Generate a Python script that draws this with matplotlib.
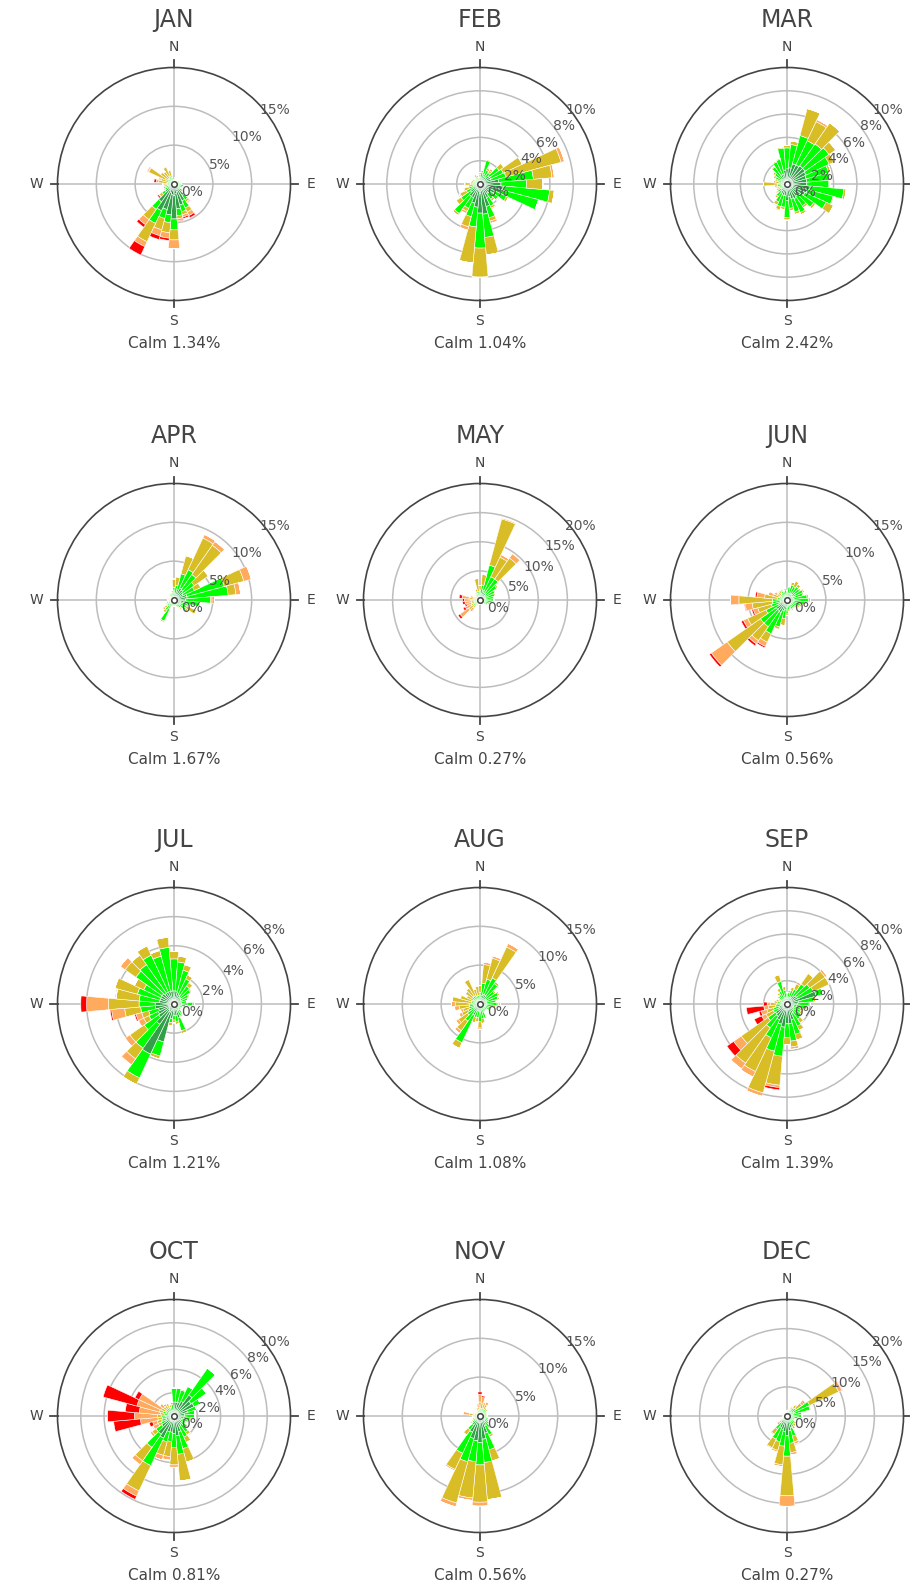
import numpy as np
import matplotlib
matplotlib.use("Agg")
import matplotlib.pyplot as plt

months = ["JAN", "FEB", "MAR", "APR", "MAY", "JUN",
          "JUL", "AUG", "SEP", "OCT", "NOV", "DEC"]
calm = [1.34, 1.04, 2.42, 1.67, 0.27, 0.56, 1.21, 1.08, 1.39, 0.81, 0.56, 0.27]
r_max = [15, 10, 10, 15, 20, 15, 8, 15, 10, 10, 15, 20]
r_step = [5, 2, 2, 5, 5, 5, 2, 5, 2, 2, 5, 5]
directions = np.arange(0, 360, 10)
speed_colors = ["#0b6b1f", "#32a048", "#00ff00", "#d9bd26", "#ffaa5c", "#ff0000"]

# frequency (%) per direction (0, 10, ... 350 deg), speed bins low -> high
JAN = [(0.15,0.2,0.15,0.1,0,0),(0.2,0.3,0.2,0.1,0,0),(0.15,0.25,0.15,0.05,0,0),(0.1,0.2,0.15,0.05,0,0),
       (0.1,0.2,0.15,0.05,0,0),(0.15,0.2,0.2,0.05,0,0),(0.2,0.3,0.25,0.05,0,0),(0.2,0.3,0.4,0.1,0,0),
       (0.2,0.3,0.3,0,0,0),(0.2,0.35,0.4,0.05,0,0),(0.25,0.4,0.6,0.15,0,0),(0.25,0.35,0.5,0.1,0,0),
       (0.25,0.35,0.3,0.1,0,0),(0.35,0.5,0.5,0.1,0.05,0),(0.6,1.2,0.7,0.3,0.1,0.1),(0.8,1.6,1.0,0.6,0.5,0.3),
       (1.0,1.8,0.9,0.4,0.3,0.2),(1.2,2.0,0.9,0.4,0.3,0.1),(1.5,3.0,1.4,1.3,1.1,0.05),(1.4,2.6,1.0,1.3,0.7,0.3),
       (1.2,2.2,1.2,1.5,0.8,0.5),(1.0,2.8,1.8,2.6,0.7,1.2),(0.8,2.0,1.2,1.6,0.8,0.4),(0.5,0.9,0.5,0.4,0.1,0.2),
       (0.4,0.6,0.3,0.2,0,0),(0.3,0.5,0.3,0.3,0.1,0),(0.2,0.4,0.2,0.3,0,0.1),(0.2,0.4,0.3,0.5,0.1,0),
       (0.2,0.4,0.3,1.1,0.3,0.3),(0.2,0.3,0.3,0.9,0.2,0.1),(0.2,0.4,0.6,2.4,0.1,0.1),(0.2,0.3,0.4,1.2,0.1,0),
       (0.2,0.3,0.4,1.0,0.1,0),(0.2,0.4,0.5,1.3,0.1,0),(0.2,0.3,0.4,0.9,0.1,0),(0.1,0.2,0.1,0.1,0,0)]
FEB = [(0.2,0.3,0.3,0.2,0,0),(0.2,0.4,0.4,0.2,0,0),(0.3,0.6,1.2,0.1,0,0),(0.2,0.5,0.6,0.2,0,0),
       (0.2,0.5,0.5,0.2,0.2,0),(0.3,0.7,1.0,0.5,0,0),(0.3,0.7,1.2,1.8,0,0),(0.3,0.7,1.3,4.9,0.3,0),
       (0.4,1.2,3.0,1.6,0.2,0),(0.5,1.3,2.2,1.4,0,0),(0.5,1.5,4.0,0.4,0,0),(0.5,1.5,3.2,0,0,0),
       (0.4,1.0,1.1,0.2,0,0),(0.3,0.8,0.8,0.1,0,0),(0.3,0.7,0.6,0.2,0,0),(0.4,0.9,0.8,0.2,0.1,0),
       (0.5,1.5,1.0,0.3,0.2,0),(0.6,2.0,2.0,1.5,0,0),(0.8,1.7,3.0,2.5,0,0),(0.6,1.4,1.7,3.1,0,0),
       (0.5,1.2,1.2,0.9,0.3,0),(0.4,0.9,1.0,0.3,0.2,0),(0.4,0.9,1.8,0.2,0,0),(0.3,0.7,1.0,0.5,0,0),
       (0.2,0.5,0.6,0.6,0.1,0),(0.2,0.4,0.4,0.4,0.1,0),(0.1,0.3,0.2,0.4,0,0),(0.2,0.3,0.3,0.5,0,0),
       (0.1,0.3,0.2,0.2,0,0),(0.1,0.3,0.2,0.2,0,0),(0.1,0.2,0.2,0.2,0,0),(0.1,0.2,0.2,0.1,0,0),
       (0.1,0.2,0.2,0.1,0,0),(0.2,0.3,0.2,0.2,0,0),(0.1,0.3,0.2,0.2,0,0),(0.1,0.2,0.2,0.1,0,0)]
MAR = [(0.4,0.9,1.8,0.2,0,0),(0.4,1.0,2.0,0.3,0,0),(0.5,1.3,2.5,2.4,0,0),(0.5,1.3,2.3,1.8,0.2,0),
       (0.5,1.4,2.3,2.2,0,0),(0.5,1.4,2.5,0.7,0,0),(0.5,1.3,2.2,0.5,0,0),(0.5,1.2,2.0,0.2,0,0),
       (0.5,1.2,2.0,0.1,0,0),(0.5,1.2,1.9,0.1,0,0),(0.5,1.5,2.9,0.2,0,0),(0.5,1.3,2.3,0.1,0,0),
       (0.5,1.2,2.0,0.7,0,0),(0.4,1.0,1.4,0.2,0,0),(0.4,0.9,1.0,0.2,0,0),(0.4,1.0,1.3,0.2,0,0),
       (0.4,0.9,1.2,0.2,0,0),(0.3,0.8,1.0,0.2,0,0),(0.4,1.0,1.5,0.2,0,0),(0.3,0.7,1.0,0.2,0,0),
       (0.3,0.7,1.0,0.3,0.1,0),(0.3,0.6,0.8,0.3,0,0),(0.2,0.5,0.6,0.2,0,0),(0.2,0.4,0.4,0.1,0.1,0),
       (0.1,0.3,0.2,0.2,0.2,0),(0.1,0.3,0.3,0.2,0.1,0),(0.2,0.3,0.3,0.3,0,0),(0.2,0.3,0.3,1.2,0,0),
       (0.1,0.3,0.3,0.3,0.2,0),(0.2,0.3,0.4,0.2,0,0),(0.2,0.4,0.5,0.2,0,0),(0.2,0.4,0.7,0.2,0,0),
       (0.3,0.5,1.0,0.1,0,0),(0.3,0.6,1.2,0.1,0,0),(0.3,0.6,1.3,0.1,0,0),(0.4,0.8,1.9,0.1,0,0)]
APR = [(0.3,0.5,0.8,1.1,0,0),(0.3,0.6,1.0,1.1,0,0),(0.4,1.0,2.1,2.4,0,0),(0.5,1.2,2.6,4.5,0.5,0),
       (0.5,1.1,2.4,4.6,0.6,0),(0.4,1.0,1.8,2.2,0,0),(0.4,0.9,1.6,0.9,0,0),(0.5,1.2,5.0,2.6,1.0,0),
       (0.5,1.2,5.3,1.0,0.6,0),(0.5,1.0,3.2,0.2,0.3,0),(0.4,0.9,2.0,0.2,0,0),(0.3,0.6,0.9,0.2,0,0),
       (0.3,0.6,0.9,1.4,0,0),(0.3,0.6,1.0,0.3,0,0),(0.2,0.4,0.7,0.2,0,0),(0.2,0.4,0.5,0.1,0,0),
       (0.2,0.3,0.4,0.1,0,0),(0.2,0.3,0.3,0,0,0),(0.2,0.3,0.3,0,0,0),(0.2,0.3,0.3,0,0,0),
       (0.2,0.3,0.4,0.1,0,0),(0.4,0.8,1.8,0.2,0,0),(0.3,0.6,0.7,0.4,0,0),(0.2,0.4,0.5,0.4,0.3,0),
       (0.2,0.3,0.4,0.2,0.1,0),(0.2,0.3,0.3,0.2,0,0),(0.1,0.2,0.2,0.2,0,0),(0.1,0.2,0.3,0.2,0,0),
       (0.1,0.2,0.3,0.2,0,0),(0.1,0.2,0.2,0.2,0,0),(0.1,0.2,0.2,0.1,0,0),(0.1,0.2,0.3,0.2,0,0),
       (0.2,0.3,0.4,0,0,0),(0.2,0.3,0.4,0.1,0,0),(0.2,0.3,0.4,0.1,0,0),(0.2,0.3,0.5,0.2,0,0)]
MAY = [(0.3,0.6,0.8,0.8,0,0),(0.3,0.8,1.5,1.8,0,0),(0.5,1.2,4.5,8.2,0.2,0),(0.4,1.0,3.0,3.7,0.5,0),
       (0.4,1.0,3.0,4.4,0.9,0),(0.3,0.8,2.4,0.3,0,0),(0.3,0.7,1.8,0.2,0,0),(0.3,0.6,1.7,0.2,0,0),
       (0.3,0.6,1.5,0.1,0,0),(0.3,0.6,1.4,0.1,0,0),(0.3,0.5,1.3,0.1,0,0),(0.2,0.5,1.0,0.1,0,0),
       (0.2,0.4,0.8,0.1,0,0),(0.2,0.3,0.6,0.1,0,0),(0.2,0.3,0.4,0.1,0,0),(0.1,0.3,0.3,0.1,0,0),
       (0.1,0.3,0.3,0.1,0,0),(0.1,0.2,0.3,0.1,0,0),(0.1,0.2,0.3,0.1,0,0),(0.1,0.3,0.3,0.1,0,0),
       (0.1,0.3,0.3,0.2,0,0),(0.2,0.3,0.3,0.3,0.1,0),(0.2,0.4,0.5,0.6,0.8,0),(0.2,0.5,0.7,1.0,1.8,0.4),
       (0.2,0.4,0.5,0.6,1.1,0.4),(0.2,0.3,0.4,0.6,0.9,0.3),(0.2,0.3,0.4,0.6,1.1,0.4),(0.2,0.3,0.4,0.7,1.1,0.3),
       (0.2,0.3,0.5,0.9,1.2,0.5),(0.1,0.3,0.3,0.5,0.6,0),(0.1,0.2,0.3,0.4,0.2,0),(0.1,0.2,0.3,0.3,0.1,0),
       (0.1,0.3,0.6,0.2,0,0),(0.2,0.3,0.7,0.3,0,0),(0.2,0.4,0.6,0.8,0,0),(0.2,0.5,0.8,2.2,0,0)]
JUN = [(0.2,0.4,0.5,0.1,0,0),(0.3,0.5,0.8,0.2,0,0),(0.3,0.6,1.1,0.4,0,0),(0.3,0.6,1.0,0.8,0,0),
       (0.3,0.6,1.2,0.4,0,0),(0.3,0.5,1.2,0.2,0,0),(0.3,0.6,1.4,0.2,0,0),(0.3,0.5,1.3,0.2,0,0),
       (0.3,0.6,1.7,0.2,0,0),(0.3,0.6,1.9,0.2,0,0),(0.3,0.6,1.4,0.2,0,0),(0.3,0.5,1.0,0.2,0,0),
       (0.2,0.5,0.9,0.2,0,0),(0.2,0.4,0.7,0.2,0,0),(0.2,0.4,0.6,0.1,0,0),(0.2,0.4,0.7,0.2,0,0),
       (0.2,0.4,0.5,0.1,0,0),(0.2,0.4,0.7,0.2,0,0),(0.3,0.6,0.9,0.2,0,0),(0.4,0.8,1.2,0.9,0,0),
       (0.4,1.0,2.2,0.3,0.1,0),(0.5,1.3,3.0,1.2,0.6,0.2),(0.5,1.2,2.5,2.2,0.5,0.3),(0.5,1.2,2.5,5.2,2.5,0.3),
       (0.4,0.8,1.8,2.6,0.6,0.3),(0.3,0.6,1.2,1.8,0.6,0.2),(0.3,0.6,1.0,2.6,0.9,0.1),(0.3,0.6,1.0,4.3,1.1,0),
       (0.2,0.4,0.6,1.7,1.0,0.2),(0.2,0.3,0.5,0.9,0.6,0),(0.2,0.3,0.4,0.5,0.4,0),(0.2,0.3,0.5,0.4,0.1,0),
       (0.2,0.3,0.6,0.4,0.1,0),(0.2,0.3,0.8,0.2,0,0),(0.2,0.3,0.6,0.1,0,0),(0.2,0.4,0.7,0.2,0,0)]
JUL = [(0.3,0.6,2.2,0.5,0,0),(0.3,0.6,2.0,0.4,0,0),(0.3,0.5,1.6,0.4,0,0),(0.2,0.5,1.2,0.3,0,0),
       (0.2,0.4,0.9,0.3,0,0),(0.2,0.4,0.8,0.1,0,0),(0.2,0.3,0.6,0.1,0,0),(0.2,0.3,0.5,0,0,0),
       (0.2,0.3,0.4,0,0,0),(0.3,0.6,0.4,0.1,0,0),(0.2,0.3,0.3,0,0,0),(0.2,0.2,0.2,0,0,0),
       (0.1,0.2,0.2,0,0,0),(0.2,0.2,0.2,0.1,0,0),(0.2,0.3,0.3,0.1,0,0),(0.2,0.3,0.4,0.1,0,0),
       (0.4,0.6,0.9,0.2,0,0),(0.3,0.5,0.4,0.2,0,0),(0.3,0.5,0.3,0.2,0,0),(0.4,0.6,0.3,0.2,0,0),
       (0.5,2.2,1.0,0.2,0,0),(0.6,3.2,1.8,0.5,0,0),(0.5,1.2,2.0,0.9,0.5,0),(0.4,0.9,1.2,1.2,0.4,0),
       (0.4,0.8,0.7,0.4,0.4,0),(0.3,0.8,0.7,0.5,0.4,0.1),(0.4,0.9,1.0,1.1,0.9,0.1),(0.4,0.9,1.1,2.1,1.5,0.4),
       (0.3,0.7,1.4,1.6,0,0),(0.3,0.7,1.6,1.6,0,0),(0.3,0.7,1.3,0.7,0,0),(0.3,0.7,2.2,0.9,0.4,0),
       (0.3,0.6,2.4,0.8,0,0),(0.3,0.6,2.8,0.7,0,0),(0.3,0.6,2.5,0.4,0,0),(0.3,0.6,3.0,0.7,0,0)]
AUG = [(0.3,0.5,0.7,0.9,0,0),(0.3,0.8,1.6,2.4,0.3,0),(0.4,0.9,2.0,2.8,0.3,0),(0.4,0.9,2.4,4.4,0.5,0),
       (0.4,0.8,2.0,0.3,0,0),(0.3,0.6,1.4,0.2,0,0),(0.3,0.6,1.7,0.2,0,0),(0.3,0.6,1.5,0.2,0,0),
       (0.3,0.5,1.2,0.2,0,0),(0.3,0.5,1.4,0.2,0.2,0),(0.3,0.4,1.1,0.2,0,0),(0.2,0.4,0.8,0.1,0,0),
       (0.2,0.4,0.8,0.1,0,0),(0.2,0.3,0.6,0.1,0,0),(0.2,0.3,0.6,0.1,0,0),(0.2,0.3,0.6,0.1,0,0),
       (0.3,0.5,1.0,0.2,0,0),(0.3,0.6,1.0,0.6,0,0),(0.4,0.7,1.2,0.8,0.2,0),(0.3,0.6,0.9,0.5,0,0),
       (0.3,0.6,0.9,0.7,0,0),(0.4,1.2,3.9,0.8,0,0),(0.4,0.8,1.5,1.5,0.4,0),(0.3,0.7,1.0,1.4,0.4,0),
       (0.3,0.6,0.8,0.9,0.4,0),(0.3,0.5,0.7,0.8,0.3,0),(0.3,0.5,0.6,1.3,0.6,0),(0.3,0.5,0.6,1.8,0.5,0),
       (0.2,0.4,0.5,2.5,0,0),(0.2,0.4,0.5,1.5,0.1,0),(0.2,0.3,0.4,1.0,0.1,0),(0.2,0.4,0.6,1.1,0,0),
       (0.2,0.4,0.7,1.2,0,0),(0.2,0.4,0.6,2.3,0,0),(0.2,0.3,0.6,0.9,0,0),(0.2,0.3,0.6,1.2,0,0)]
SEP = [(0.2,0.3,0.4,0.1,0,0),(0.2,0.3,0.5,0.2,0,0),(0.2,0.4,0.6,0.3,0,0),(0.2,0.4,0.8,0.5,0.2,0),
       (0.3,0.6,1.2,1.1,0,0),(0.3,0.7,1.4,1.6,0.2,0),(0.3,0.7,1.5,1.5,0,0),(0.4,2.2,0.6,0,0,0),
       (0.3,0.7,1.3,0.2,0,0),(0.3,0.6,1.0,0.1,0,0),(0.3,0.5,0.9,0.1,0,0),(0.2,0.4,0.6,0.3,0,0),
       (0.2,0.4,0.7,0.2,0,0),(0.2,0.5,0.8,0.1,0,0),(0.3,0.5,0.8,0.4,0,0),(0.3,0.6,1.2,0.4,0,0),
       (0.4,1.0,1.3,0.5,0,0),(0.5,1.2,1.5,0.5,0.2,0),(0.5,1.2,1.2,0.6,0,0),(0.5,1.5,2.5,2.5,0.2,0.2),
       (0.5,1.3,2.4,3.7,0.3,0),(0.5,1.0,1.7,3.2,0.5,0),(0.4,0.9,1.2,3.7,0.6,0),(0.4,0.8,0.8,2.8,0.8,0.7),
       (0.3,0.5,0.5,0.7,0.4,0.7),(0.2,0.5,0.5,0.6,0.5,0.2),(0.2,0.4,0.4,0.6,0.4,1.5),(0.2,0.3,0.4,0.5,0.3,0.3),
       (0.2,0.3,0.3,0.3,0.1,0),(0.1,0.3,0.3,0.3,0,0),(0.1,0.2,0.3,0.2,0,0),(0.1,0.3,0.4,0.2,0,0),
       (0.2,0.3,0.5,0.2,0,0),(0.2,0.3,0.7,0.3,0,0),(0.2,0.4,1.4,0.6,0,0),(0.2,0.3,0.7,0.3,0,0)]
OCT = [(0.4,0.8,1.2,0,0,0),(0.4,0.8,1.2,0,0,0),(0.4,0.8,1.1,0.1,0,0),(0.4,1.0,1.4,0,0,0),
       (0.5,1.7,2.8,0,0,0),(0.4,1.4,1.6,0,0,0),(0.4,1.5,0.6,0,0,0),(0.3,0.9,0.8,0,0,0),
       (0.3,0.6,0.9,0,0,0),(0.3,0.6,0.9,0,0,0),(0.3,0.5,0.6,0.1,0,0),(0.3,0.4,0.5,0.1,0,0),
       (0.2,0.4,0.5,0.1,0,0),(0.3,0.5,0.6,0.1,0,0),(0.3,0.6,0.8,0.3,0,0),(0.3,0.7,1.0,0.5,0,0),
       (0.4,1.0,1.5,1.2,0,0),(0.5,1.2,1.6,2.3,0,0),(0.5,1.0,1.2,1.5,0.2,0),(0.4,1.0,0.8,1.3,0.3,0),
       (0.4,1.0,0.9,1.2,0.4,0),(0.5,1.6,2.6,2.4,0.5,0.3),(0.5,1.4,1.4,1.4,0.4,0),(0.4,0.9,0.6,0.4,0.2,0),
       (0.3,0.5,0.4,0.3,0.5,0),(0.3,0.4,0.4,0.4,0.4,0.3),(0.3,0.4,0.3,0.4,1.5,2.3),(0.3,0.4,0.4,0.3,2.0,2.3),
       (0.2,0.3,0.3,0.4,1.8,1.2),(0.3,0.4,0.3,0.3,2.0,3.0),(0.2,0.3,0.3,0.4,2.1,0.4),(0.2,0.3,0.3,0.3,0.4,0),
       (0.2,0.3,0.3,0.3,0.2,0),(0.2,0.3,0.3,0.2,0.2,0),(0.2,0.3,0.3,0.2,0,0),(0.2,0.3,0.5,0.2,0,0)]
NOV = [(0.3,0.4,0.3,0.8,1.0,0.3),(0.3,0.4,0.3,0.6,0.8,0.2),(0.2,0.4,0.4,0.5,0.3,0),(0.2,0.4,0.4,0.6,0.4,0),
       (0.2,0.3,0.5,0.3,0,0),(0.2,0.3,0.5,0.2,0,0),(0.2,0.3,0.4,0.1,0,0),(0.2,0.3,0.4,0.1,0,0),
       (0.2,0.3,0.4,0.1,0,0),(0.2,0.3,0.4,0.1,0,0),(0.2,0.3,0.4,0.1,0,0),(0.2,0.3,0.6,0.1,0,0),
       (0.2,0.4,0.6,0.1,0,0),(0.3,0.5,0.6,0.1,0,0),(0.4,0.6,0.8,0.2,0,0),(0.5,0.9,1.3,0.3,0,0),
       (0.7,1.6,2.2,1.5,0,0),(0.8,2.2,3.0,4.8,0,0),(0.8,2.6,2.9,4.8,0.5,0),(0.8,2.4,2.7,4.7,0.3,0),
       (0.8,2.2,3.1,5.5,0.5,0),(0.7,1.6,3.0,2.3,0.2,0),(0.5,0.9,0.8,0.8,0,0),(0.3,0.5,0.5,0.2,0,0),
       (0.2,0.4,0.4,0.2,0,0),(0.2,0.3,0.3,0.2,0,0),(0.2,0.3,0.2,0.2,0,0),(0.2,0.3,0.2,0.3,0,0),
       (0.2,0.3,0.3,0.6,0.8,0),(0.2,0.3,0.2,0.2,0.1,0),(0.1,0.2,0.2,0.2,0.1,0),(0.1,0.2,0.2,0.2,0.1,0),
       (0.1,0.2,0.2,0.2,0.1,0),(0.1,0.3,0.3,0.2,0.1,0),(0.2,0.3,0.3,0.3,0.1,0),(0.2,0.3,0.3,0.3,0.3,0.1)]
DEC = [(0.2,0.3,0.3,0.2,0,0),(0.2,0.3,0.3,0.2,0,0),(0.2,0.3,0.4,0.3,0,0),(0.2,0.4,0.6,0.4,0.2,0),
       (0.3,0.5,0.9,0.6,0.2,0),(0.3,0.6,1.0,1.2,0.5,0.2),(0.4,0.9,3.0,5.5,0.6,0.1),(0.4,0.8,2.9,0.2,0,0),
       (0.3,0.6,1.6,0.1,0,0),(0.3,0.6,1.6,0.1,0,0),(0.3,0.5,1.1,0.1,0,0),(0.2,0.4,0.8,0.1,0,0),
       (0.2,0.4,0.6,0.3,0,0),(0.3,0.5,0.8,0.4,0,0),(0.3,0.5,0.9,0.5,0,0),(0.4,0.7,0.9,0.5,0,0),
       (0.6,1.5,1.5,1.0,0.4,0),(0.7,1.8,2.2,1.6,0.4,0),(0.8,2.6,3.5,6.8,1.8,0),(0.7,2.0,2.5,3.2,0.3,0),
       (0.6,1.8,2.2,1.5,0.3,0),(0.6,1.6,2.2,1.6,0.2,0),(0.4,1.0,1.4,1.0,0.2,0),(0.3,0.5,0.5,0.3,0.2,0.2),
       (0.2,0.3,0.3,0.2,0,0),(0.2,0.2,0.2,0.2,0,0),(0.2,0.2,0.2,0.2,0,0),(0.1,0.2,0.2,0.2,0,0),
       (0.1,0.2,0.2,0.1,0,0),(0.1,0.2,0.2,0.1,0,0),(0.1,0.2,0.2,0.1,0,0),(0.1,0.2,0.2,0.1,0,0),
       (0.1,0.2,0.2,0.1,0,0),(0.1,0.2,0.3,0.1,0,0),(0.2,0.2,0.3,0.1,0,0),(0.2,0.2,0.3,0.1,0,0)]

roses = [JAN, FEB, MAR, APR, MAY, JUN, JUL, AUG, SEP, OCT, NOV, DEC]

W, H = 910, 1586
col_x = [174, 480, 787]
row_y = [184, 600, 1004, 1416]
R = 116.5
txt = "#444444"

fig = plt.figure(figsize=(W / 100, H / 100), dpi=100)

for k, name in enumerate(months):
    cx = col_x[k % 3]
    cy = row_y[k // 3]
    ax = fig.add_axes([(cx - R) / W, 1 - (cy + R) / H, 2 * R / W, 2 * R / H],
                      projection="polar")
    ax.set_theta_zero_location("N")
    ax.set_theta_direction(-1)
    ax.set_axisbelow(True)

    data = np.array(roses[k])
    theta = np.deg2rad(directions)
    bottom = np.zeros(len(directions))
    for b in range(data.shape[1]):
        ax.bar(theta, data[:, b], width=np.deg2rad(10), bottom=bottom,
               color=speed_colors[b], edgecolor="white", linewidth=0.4, zorder=2)
        bottom = bottom + data[:, b]

    ax.set_ylim(0, r_max[k])
    ticks = list(range(0, r_max[k] + 1, r_step[k]))
    ax.set_yticks(ticks[1:-1])
    ax.set_yticklabels([])
    compass = ["N", "E", "S", "W"]
    if k % 3 == 2:
        compass[1] = ""  # falls off the right edge in the original
    ax.set_xticks(np.deg2rad([0, 90, 180, 270]))
    ax.set_xticklabels(compass, fontsize=10, color=txt)
    ax.grid(True, color="#bdbdbd", linewidth=1.1)
    ax.tick_params(axis="x", length=0, pad=8)
    ax.spines["polar"].set_color(txt)
    ax.spines["polar"].set_linewidth(1.2)

    # short outside ticks at N / E / S / W
    ext = r_max[k] * (1 + 7 / R)
    for a in [0, 90, 180, 270]:
        ax.plot([np.deg2rad(a)] * 2, [r_max[k], ext], color=txt, lw=1.3,
                clip_on=False, zorder=3)

    for t in ticks:
        ax.annotate(f"{t}%", xy=(np.deg2rad(45), t), xytext=(18, -8),
                    textcoords="offset pixels", ha="center", va="center",
                    fontsize=10, color="#555555", zorder=5,
                    annotation_clip=False)

    ax.plot([0], [0], marker="o", ms=4, mfc="white", mec=txt, mew=1.1,
            zorder=6, clip_on=False)

    fig.text(cx / W, 1 - (cy - 164) / H, name, ha="center", va="center",
             fontsize=17, color=txt)
    fig.text(cx / W, 1 - (cy + 159) / H, f"Calm {calm[k]:.2f}%",
             ha="center", va="center", fontsize=11, color=txt)

fig.savefig("out.png", dpi=100, facecolor="white")
